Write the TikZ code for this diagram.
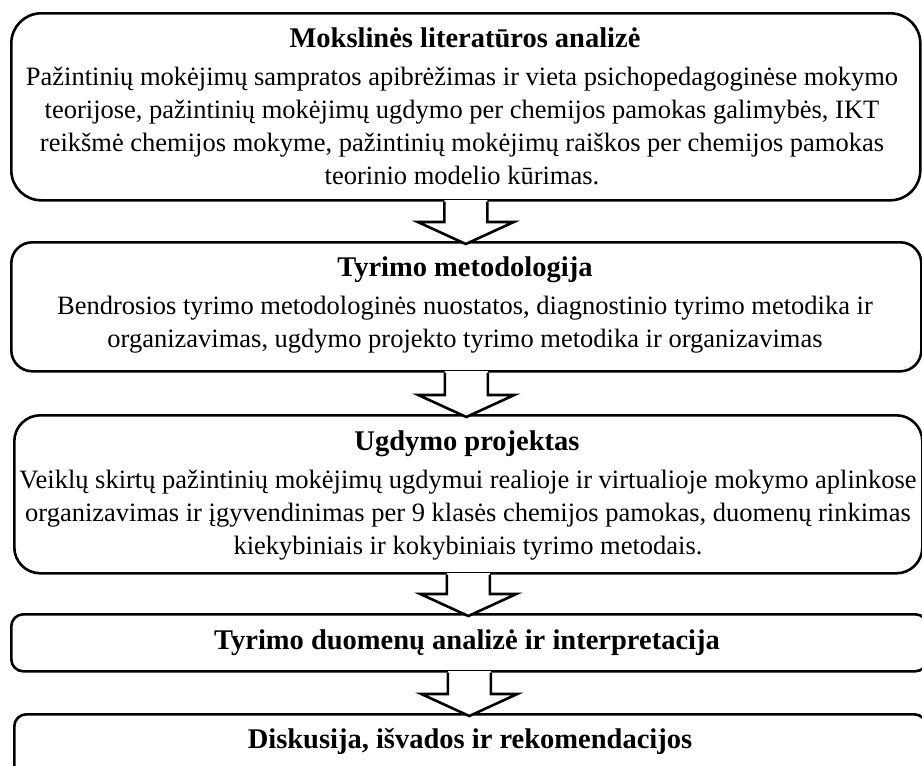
\documentclass[tikz,border=0pt]{standalone}
\usepackage{fontspec}
\setmainfont{Liberation Serif}
\usetikzlibrary{calc}

\tikzset{
  stage/.style={draw, line width=2.6pt, inner sep=0pt, anchor=north west},
  headtext/.style={font=\fontsize{28.5}{33}\selectfont\bfseries, anchor=base, inner sep=0pt},
  bodytext/.style={font=\fontsize{26.5}{33}\selectfont, anchor=base, align=center, inner sep=0pt},
}

% block arrow from one stage down to the next
\newcommand{\flowarrow}[2]{%
  \fill[white] let \p1=(#1.south), \p2=(#2.north) in
    (\x1-21.5pt,\y1+1.5pt) -- (\x1-21.5pt,\y2+19pt) -- (\x1-48pt,\y2+19pt) -- (\x1,\y2-3pt)
    -- (\x1+48pt,\y2+19pt) -- (\x1+21.5pt,\y2+19pt) -- (\x1+21.5pt,\y1+1.5pt) -- cycle;
  \draw[line width=2.6pt, line join=miter] let \p1=(#1.south), \p2=(#2.north) in
    (\x1-21.5pt,\y1) -- (\x1-21.5pt,\y2+19pt) -- (\x1-48pt,\y2+19pt) -- (\x1,\y2-3pt)
    -- (\x1+48pt,\y2+19pt) -- (\x1+21.5pt,\y2+19pt) -- (\x1+21.5pt,\y1);
}

\begin{document}
\begin{tikzpicture}[x=1pt, y=-1pt]
  \useasboundingbox (0,0) rectangle (922,766);
  \clip (0,0) rectangle (922,766);

  % stages
  \node[stage, rounded corners=30pt, minimum width=909pt, minimum height=187pt] (lit) at (10,12) {};
  \node[stage, rounded corners=21pt, minimum width=910pt, minimum height=129pt] (met) at (10,241) {};
  \node[stage, rounded corners=26pt, minimum width=908pt, minimum height=158pt] (proj) at (13,414) {};
  \node[stage, rounded corners=12pt, minimum width=916pt, minimum height=57pt] (anal) at (10,613) {};
  \node[stage, rounded corners=12pt, minimum width=912pt, minimum height=70pt] (disk) at (13,713) {};

  % texts (body nodes sit on the baseline of their last line)
  \node[headtext] (lit-h) at (465,47) {Mokslinės literatūros analizė};
  \node[bodytext] (lit-b) at (462,184) {Pažintinių mokėjimų sampratos apibrėžimas ir vieta psichopedagoginėse mokymo\\
    teorijose, pažintinių mokėjimų ugdymo per chemijos pamokas galimybės, IKT\\
    reikšmė chemijos mokyme, pažintinių mokėjimų raiškos per chemijos pamokas\\
    teorinio modelio kūrimas.};

  \node[headtext] (met-h) at (465,276) {Tyrimo metodologija};
  \node[bodytext] (met-b) at (465,347) {Bendrosios tyrimo metodologinės nuostatos, diagnostinio tyrimo metodika ir\\
    organizavimas, ugdymo projekto tyrimo metodika ir organizavimas};

  \node[headtext] (proj-h) at (467,450) {Ugdymo projektas};
  \node[bodytext] (proj-b) at (468,554) {Veiklų skirtų pažintinių mokėjimų ugdymui realioje ir virtualioje mokymo aplinkose\\
    organizavimas ir įgyvendinimas per 9 klasės chemijos pamokas, duomenų rinkimas\\
    kiekybiniais ir kokybiniais tyrimo metodais.};

  \node[headtext] (anal-h) at (467,649) {Tyrimo duomenų analizė ir interpretacija};
  \node[headtext] (disk-h) at (470,748) {Diskusija, išvados ir rekomendacijos};

  % arrows
  \flowarrow{lit}{met}
  \flowarrow{met}{proj}
  \flowarrow{proj}{anal}
  \flowarrow{anal}{disk}
\end{tikzpicture}
\end{document}
